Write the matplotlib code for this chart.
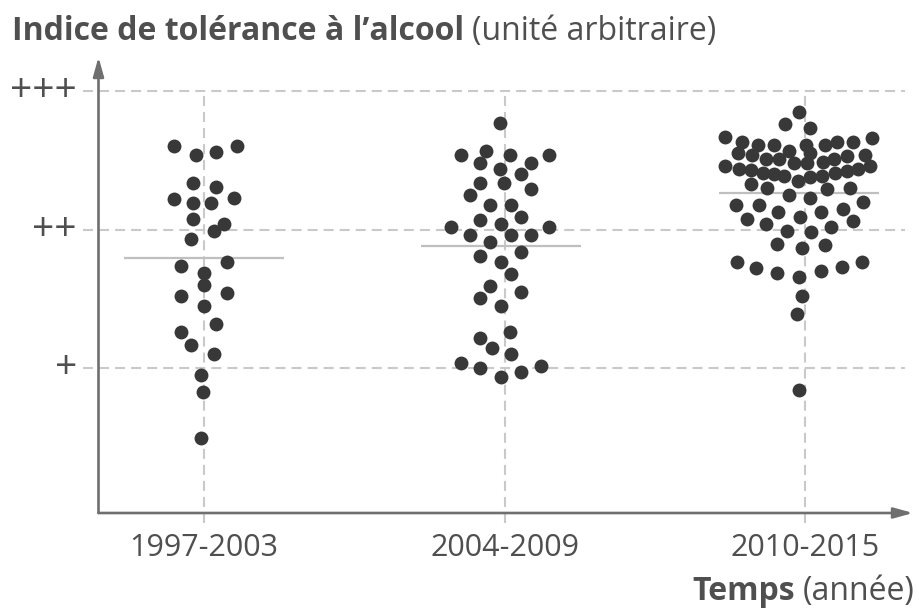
import numpy as np
import matplotlib
matplotlib.use("Agg")
import matplotlib.pyplot as plt
from matplotlib.transforms import blended_transform_factory

# ---------------- data ----------------
categories = ["1997-2003", "2004-2009", "2010-2015"]
level_labels = ["+", "++", "+++"]
level_values = [1, 2, 3]

# tolerance index values (arbitrary units) for each period
values_1997 = [2.60, 2.54, 2.56, 2.60, 2.34, 2.31, 2.22, 2.19, 2.19, 2.23,
               2.08, 2.04, 1.99, 1.93, 1.74, 1.77, 1.69, 1.60, 1.52, 1.54,
               1.45, 1.32, 1.26, 1.17, 1.10, 0.95, 0.83, 0.50]
values_2004 = [2.77, 2.54, 2.57, 2.54, 2.54, 2.48, 2.48, 2.44, 2.40, 2.34,
               2.34, 2.29, 2.25, 2.18, 2.18, 2.07, 2.09, 2.02, 2.04, 2.02,
               1.96, 1.96, 1.96, 1.91, 1.81, 1.84, 1.77, 1.68, 1.59, 1.51,
               1.55, 1.45, 1.22, 1.26, 1.15, 1.10, 1.04, 1.00, 1.02, 0.94,
               0.97]
values_2010 = [2.85, 2.76, 2.73, 2.67, 2.63, 2.61, 2.61, 2.61, 2.61, 2.63,
               2.63, 2.66, 2.57, 2.55, 2.54, 2.51, 2.51, 2.48, 2.55, 2.48,
               2.49, 2.51, 2.53, 2.54, 2.46, 2.44, 2.43, 2.41, 2.40, 2.39,
               2.35, 2.38, 2.39, 2.41, 2.42, 2.44, 2.46, 2.33, 2.30, 2.25,
               2.23, 2.29, 2.30, 2.18, 2.18, 2.13, 2.09, 2.13, 2.15, 2.20,
               2.08, 2.04, 1.99, 1.98, 2.02, 2.06, 1.90, 1.87, 1.89, 1.77,
               1.72, 1.69, 1.66, 1.70, 1.73, 1.77, 1.52, 1.39, 0.84]

# horizontal swarm offsets of each dot (fraction of category spacing)
offsets_1997 = [-0.099, -0.025, 0.041, 0.111, -0.036, 0.041, -0.100, -0.035, 0.024, 0.100,
                -0.036, 0.067, 0.033, -0.043, -0.076, 0.077, -0.001, -0.001, -0.076, 0.076,
                -0.001, 0.041, -0.077, -0.043, 0.033, -0.009, -0.002, -0.009]
offsets_2004 = [-0.016, -0.145, -0.061, 0.017, 0.147, -0.083, 0.087, -0.016, 0.054, -0.083,
                -0.002, 0.087, -0.114, -0.050, 0.021, -0.083, 0.054, -0.178, -0.011, 0.147,
                -0.115, 0.021, 0.087, -0.050, -0.083, 0.054, -0.011, 0.021, -0.050, -0.083,
                0.054, -0.011, -0.082, 0.017, -0.043, 0.021, -0.145, -0.081, 0.120, -0.011,
                0.054]
offsets_2010 = [-0.021, -0.069, 0.016, -0.267, -0.211, -0.157, -0.104, 0.001, 0.067, 0.107,
                0.159, 0.223, -0.055, -0.224, -0.176, -0.131, -0.088, -0.039, 0.017, 0.006,
                0.058, 0.094, 0.139, 0.200, -0.267, -0.221, -0.179, -0.142, -0.105, -0.072,
                -0.024, 0.017, 0.056, 0.100, 0.139, 0.174, 0.216, -0.182, -0.126, -0.054,
                0.016, 0.071, 0.147, -0.230, -0.154, -0.090, -0.018, 0.051, 0.124, 0.193,
                -0.193, -0.130, -0.060, 0.018, 0.084, 0.160, -0.093, -0.011, 0.067, -0.228,
                -0.164, -0.095, -0.021, 0.051, 0.121, 0.188, -0.012, -0.027, -0.020]

groups_values = [values_1997, values_2004, values_2010]
groups_offsets = [offsets_1997, offsets_2004, offsets_2010]

title_bold = "Indice de tolérance à l’alcool"
title_regular = "(unité arbitraire)"
xlabel_bold = "Temps"
xlabel_regular = "(année)"

# ---------------- style ----------------
FONT = "Open Sans"
TEXT_C = "#4f4f4f"
AXIS_C = "#6f6f6f"
GRID_C = "#c9c9c9"
MEAN_C = "#bfbfbf"
DOT_C = "#383838"

W_PX, H_PX = 919, 608
fig = plt.figure(figsize=(W_PX / 100, H_PX / 100), dpi=100)
fig.patch.set_facecolor("white")

# axes box: left at the y-axis line, bottom at the x-axis line, up to arrow tips
ax_left, ax_bottom, ax_right, ax_top = 98.5, 513, 913, 57
ax = fig.add_axes([ax_left / W_PX, 1 - ax_bottom / H_PX,
                   (ax_right - ax_left) / W_PX, (ax_bottom - ax_top) / H_PX])
x_unit = 300.7      # px per category
y_unit = 138.65     # px per level
x0_px, y1_px = 203.9, 368.3
ax.set_xlim((ax_left - x0_px) / x_unit, (ax_right - x0_px) / x_unit)
ax.set_ylim(1 - (ax_bottom - y1_px) / y_unit, 1 + (y1_px - ax_top) / y_unit)
ax.axis("off")

xpos = np.arange(len(categories))

# dashed grid
dash = (4.8, 2.9)
xl = ax.get_xlim()
ax.hlines(level_values, xl[0] - 15.5 / x_unit, xl[0] + (905 - ax_left) / x_unit,
          colors=GRID_C, linewidth=1.5, linestyles=[(0, dash)], clip_on=False, zorder=1)
yl = ax.get_ylim()
ax.vlines(xpos, yl[0] - 10 / y_unit, max(level_values),
          colors=GRID_C, linewidth=1.5, linestyles=[(0, dash)], clip_on=False, zorder=1)

# axis arrows
arrow = dict(arrowstyle="-|>,head_length=1.15,head_width=0.32", mutation_scale=10,
             color=AXIS_C, lw=1.9, shrinkA=0, shrinkB=0)
ax.annotate("", xy=(0, 1), xytext=(0, 0), xycoords="axes fraction",
            textcoords="axes fraction", arrowprops=arrow, zorder=4)
ax.annotate("", xy=(1, 0), xytext=(0, 0), xycoords="axes fraction",
            textcoords="axes fraction", arrowprops=arrow, zorder=4)

# means and dots
for i, (vals, offs) in enumerate(zip(groups_values, groups_offsets)):
    vals = np.asarray(vals)
    offs = np.asarray(offs)
    cx = i + np.mean(offs)
    ax.hlines(np.mean(vals), cx - 0.266, cx + 0.266, colors=MEAN_C,
              linewidth=1.6, zorder=2)
    ax.scatter(i + offs, vals, s=100, color=DOT_C, linewidths=0, zorder=3)

# category labels
tr_x = blended_transform_factory(ax.transData, fig.transFigure)
for xp, lab in zip(xpos, categories):
    ax.text(xp, 1 - 556 / H_PX, lab, transform=tr_x, ha="center", va="baseline",
            fontsize=22, family=FONT, color=TEXT_C)

# level labels
tr_y = blended_transform_factory(fig.transFigure, ax.transData)
for yv, lab in zip(level_values, level_labels):
    ax.text(77 / W_PX, yv, lab, transform=tr_y, ha="right", va="center",
            fontsize=28, family=FONT, color=TEXT_C)

# titles (bold + regular parts)
renderer = fig.canvas.get_renderer()
t1 = fig.text(12 / W_PX, 1 - 40 / H_PX, title_bold, fontsize=23, fontweight="bold",
              family=FONT, color=TEXT_C, ha="left", va="baseline")
bb = t1.get_window_extent(renderer)
fig.text((bb.x1 + 8) / W_PX, 1 - 40 / H_PX, title_regular, fontsize=23,
         family=FONT, color=TEXT_C, ha="left", va="baseline")

t2 = fig.text(915 / W_PX, 1 - 600 / H_PX, xlabel_regular, fontsize=23,
              family=FONT, color=TEXT_C, ha="right", va="baseline")
bb2 = t2.get_window_extent(renderer)
fig.text((bb2.x0 - 8) / W_PX, 1 - 600 / H_PX, xlabel_bold, fontsize=23,
         fontweight="bold", family=FONT, color=TEXT_C, ha="right", va="baseline")

fig.savefig("out.png", dpi=100, facecolor="white")
